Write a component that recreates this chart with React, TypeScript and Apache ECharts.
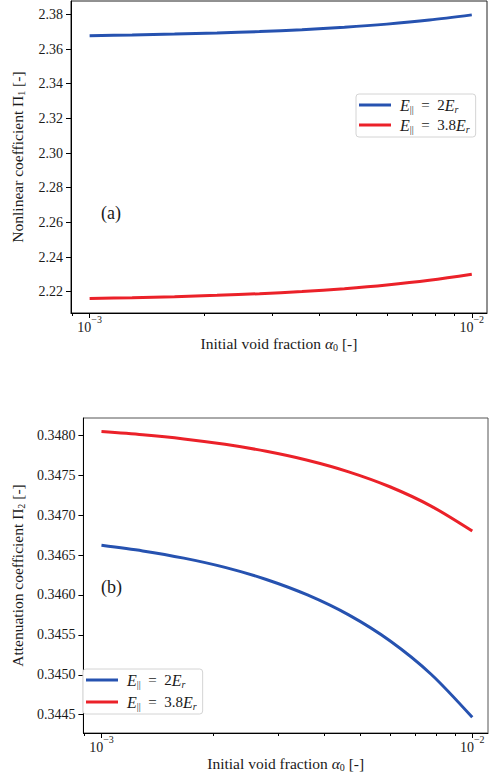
import React, { useEffect, useRef } from 'react';
import * as echarts from 'echarts';

const FONT = 'Liberation Serif';
const TXT = '#1a1a1a';
const BLUE = '#2652b0';
const RED = '#eb2129';

// Initial void fraction alpha_0
const alpha = [0.001, 0.001292, 0.001668, 0.002154, 0.002783, 0.003594, 0.004642, 0.005995, 0.007743, 0.01];
// (a) Nonlinear coefficient Pi_1
const pi1Stiff2 = [2.3677, 2.36809, 2.36859, 2.36924, 2.37008, 2.37116, 2.37256, 2.37436, 2.37669, 2.3797];
const pi1Stiff38 = [2.2161, 2.21655, 2.21714, 2.21789, 2.21886, 2.22012, 2.22175, 2.22384, 2.22655, 2.23005];
// (b) Attenuation coefficient Pi_2
const pi2Stiff2 = [0.346621, 0.346551, 0.346461, 0.346345, 0.346194, 0.346, 0.34575, 0.345426, 0.345007, 0.344467];
const pi2Stiff38 = [0.348046, 0.348006, 0.347954, 0.347886, 0.347799, 0.347687, 0.347542, 0.347355, 0.347113, 0.3468];

const seriesNames = ['E2', 'E38'];
const legendLabels: Record<string, string> = {
  E2: '{i|E}{s|||}{n|  =  2}{i|E}{ss|r}',
  E38: '{i|E}{s|||}{n|  =  3.8}{i|E}{ss|r}',
};

const yTicksTop = [2.22, 2.24, 2.26, 2.28, 2.3, 2.32, 2.34, 2.36, 2.38];
const yTicksBottom = [0.3445, 0.345, 0.3455, 0.346, 0.3465, 0.347, 0.3475, 0.348];
const xMajorExp = [-3, -2];
const xMinorAlpha = [0.0009, 0.002, 0.003, 0.004, 0.005, 0.006, 0.007, 0.008, 0.009];

const XMIN = -3.0487;

function pts(vals: number[]) {
  return alpha.map((a, i) => [Math.log10(a), vals[i]]);
}

const richCommon = {
  i: { fontFamily: FONT, fontStyle: 'italic', fontSize: 16, lineHeight: 18, color: TXT },
  n: { fontFamily: FONT, fontSize: 15, lineHeight: 18, color: TXT },
  s: { fontFamily: FONT, fontSize: 10, lineHeight: 10, verticalAlign: 'bottom', color: TXT },
  ss: { fontFamily: FONT, fontStyle: 'italic', fontSize: 10, lineHeight: 10, verticalAlign: 'bottom', color: TXT },
  g: { fontFamily: FONT, fontStyle: 'italic', fontSize: 15.5, lineHeight: 18, color: TXT },
  t: { fontFamily: FONT, fontSize: 15.5, lineHeight: 18, color: TXT },
};

function xMain(gridIndex: number, max: number) {
  return {
    type: 'value',
    gridIndex,
    min: XMIN,
    max,
    position: 'bottom',
    axisLine: { show: true, onZero: false, lineStyle: { color: '#000', width: 1 } },
    axisTick: { show: true, length: 5, customValues: xMajorExp, lineStyle: { color: '#000' } },
    axisLabel: {
      customValues: xMajorExp,
      margin: 1,
      formatter: (v: number) => `{b|10}{p|−${Math.round(-v)}}`,
      rich: {
        b: { fontFamily: FONT, fontSize: 14, lineHeight: 20, verticalAlign: 'bottom', color: TXT },
        p: { fontFamily: FONT, fontSize: 10, lineHeight: 10, verticalAlign: 'top', color: TXT },
      },
    },
    splitLine: { show: false },
    name: '{t|Initial void fraction }{g|α}{s|0}{t| [-]}',
    nameLocation: 'middle',
    nameGap: 20,
    nameTextStyle: { fontFamily: FONT, fontSize: 15, color: TXT, lineHeight: 18, rich: richCommon },
  };
}

function xMinor(gridIndex: number, max: number) {
  return {
    type: 'value',
    gridIndex,
    min: XMIN,
    max,
    position: 'bottom',
    axisLine: { show: false, onZero: false },
    axisTick: { show: true, length: 3, customValues: xMinorAlpha.map((a) => Math.log10(a)), lineStyle: { color: '#000' } },
    axisLabel: { show: false },
    splitLine: { show: false },
  };
}

function yAxis(gridIndex: number, min: number, max: number, ticks: number[], dec: number, name: string, gap: number) {
  return {
    type: 'value',
    gridIndex,
    min,
    max,
    axisLine: { show: true, onZero: false, lineStyle: { color: '#000', width: 1 } },
    axisTick: { show: true, length: 5, customValues: ticks, lineStyle: { color: '#000' } },
    axisLabel: {
      customValues: ticks,
      margin: 8,
      formatter: (v: number) => v.toFixed(dec),
      fontFamily: FONT,
      fontSize: 14,
      color: TXT,
    },
    splitLine: { show: false },
    name,
    nameLocation: 'middle',
    nameGap: gap,
    nameTextStyle: { fontFamily: FONT, fontSize: 15, color: TXT, lineHeight: 18, rich: richCommon },
  };
}

function line(name: string, vals: number[], color: string, xIdx: number, yIdx: number) {
  return {
    type: 'line',
    name,
    xAxisIndex: xIdx,
    yAxisIndex: yIdx,
    data: pts(vals),
    showSymbol: false,
    symbol: 'none',
    smooth: 0.3,
    lineStyle: { color, width: 3 },
    itemStyle: { color },
  };
}

function legend(left: number, top: number, pad: number[], gap: number) {
  return {
    data: seriesNames,
    left,
    top,
    orient: 'vertical',
    icon: 'rect',
    itemWidth: 32,
    itemHeight: 3,
    itemGap: gap,
    padding: pad,
    borderColor: '#d4d4d4',
    borderWidth: 1,
    borderRadius: 3,
    backgroundColor: '#fff',
    selectedMode: false,
    formatter: (n: string) => legendLabels[n],
    textStyle: { fontFamily: FONT, fontSize: 15, color: TXT, padding: [0, 0, 0, 4], rich: richCommon },
  };
}

const option = {
  animation: false,
  backgroundColor: '#fff',
  grid: [
    { left: 69, top: 1, width: 418, height: 312, show: true, borderColor: '#222', borderWidth: 1, containLabel: false },
    { left: 69, top: 418, width: 419, height: 315, show: true, borderColor: '#555', borderWidth: 1, containLabel: false },
  ],
  xAxis: [xMain(0, -1.9602), xMinor(0, -1.9602), xMain(1, -1.9576), xMinor(1, -1.9576)],
  yAxis: [
    yAxis(0, 2.2077, 2.3877, yTicksTop, 2, '{t|Nonlinear coefficient Π}{s|1}{t| [-]}', 45),
    yAxis(1, 0.344271, 0.348216, yTicksBottom, 4, '{t|Attenuation coefficient Π}{s|2}{t| [-]}', 54),
  ],
  legend: [legend(356, 94, [3, 6, 3, 3], 3), legend(83, 669, [3, 6, 3, 3], 5)],
  series: [
    line('E2', pi1Stiff2, BLUE, 0, 0),
    line('E38', pi1Stiff38, RED, 0, 0),
    line('E2', pi2Stiff2, BLUE, 2, 1),
    line('E38', pi2Stiff38, RED, 2, 1),
  ],
  graphic: [
    { type: 'text', left: 101, top: 204, style: { text: '(a)', font: `18px ${FONT}`, fill: TXT } },
    { type: 'text', left: 101, top: 578, style: { text: '(b)', font: `18px ${FONT}`, fill: TXT } },
  ],
};

export default function App() {
  const ref = useRef<HTMLDivElement>(null);
  useEffect(() => {
    document.body.style.margin = '0';
    const chart = echarts.init(ref.current!, null, { renderer: 'svg' });
    chart.setOption(option as any);
    return () => chart.dispose();
  }, []);
  return <div ref={ref} style={{ width: 490, height: 778 }} />;
}
